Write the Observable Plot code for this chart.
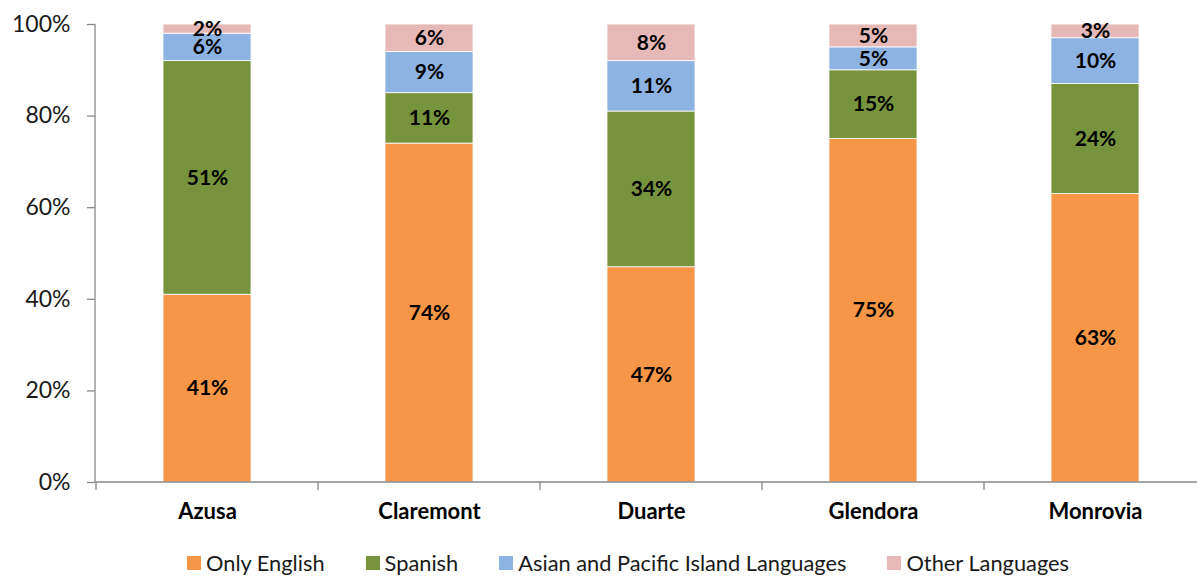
<!DOCTYPE html>
<html>
<head>
<meta charset="utf-8">
<script src="https://cdn.jsdelivr.net/npm/d3@7"></script>
<script src="https://cdn.jsdelivr.net/npm/@observablehq/plot@0.6"></script>
<style>
  body { margin: 0; background: #fff; font-family: Lato, "Open Sans", sans-serif; }
  #legend { display: flex; justify-content: flex-start; gap: 41px; padding-left: 187px; margin-top: 14px; font-size: 21.8px; color: #1a1a1a; }
  #legend .item { display: flex; align-items: center; gap: 5px; white-space: nowrap; }
  #legend .sw { width: 14px; height: 14px; display: inline-block; }
</style>
</head>
<body>
<div id="chart"></div>
<div id="legend"></div>
<script>
// Share of residents by language spoken at home, per city
const cities = ["Azusa", "Claremont", "Duarte", "Glendora", "Monrovia"];
const languages = ["Only English", "Spanish", "Asian and Pacific Island Languages", "Other Languages"];
const onlyEnglish = [41, 74, 47, 75, 63];
const spanish = [51, 11, 34, 15, 24];
const asianPacific = [6, 9, 11, 5, 10];
const otherLanguages = [2, 6, 8, 5, 3];
const colors = ["#F79646", "#77933C", "#8DB3E2", "#E6B9B8"];
const yTicks = [0, 20, 40, 60, 80, 100];

const series = [onlyEnglish, spanish, asianPacific, otherLanguages];
const rows = languages.flatMap((lang, s) =>
  cities.map((city, i) => ({ city, lang, value: series[s][i] }))
);

const axisColor = "#898989";

// Axis lines plus the category boundary ticks along the bottom
function axisLines(index, scales, values, dims) {
  const { width, height, marginLeft, marginRight, marginTop, marginBottom } = dims;
  const x = scales.x;
  const y0 = height - marginBottom;
  const step = x(cities[1]) - x(cities[0]);
  const bw = x.bandwidth ? x.bandwidth() : 0;
  const g = d3.create("svg:g")
    .attr("stroke", axisColor)
    .attr("stroke-width", 1.3)
    .attr("fill", "none");
  g.append("line").attr("x1", marginLeft).attr("x2", marginLeft).attr("y1", marginTop).attr("y2", y0);
  g.append("line").attr("x1", marginLeft).attr("x2", width - marginRight).attr("y1", y0).attr("y2", y0);
  const edges = cities.map(c => x(c) + bw / 2 - step / 2);
  edges.push(x(cities[cities.length - 1]) + bw / 2 + step / 2);
  for (const e of edges) {
    g.append("line").attr("x1", e).attr("x2", e).attr("y1", y0).attr("y2", y0 + 8);
  }
  return g.node();
}

const chart = Plot.plot({
  width: 1197,
  height: 535,
  marginLeft: 95,
  marginRight: -9,
  marginTop: 24,
  marginBottom: 53,
  style: { fontFamily: "Lato, 'Open Sans', sans-serif", background: "white", overflow: "visible" },
  x: { domain: cities, paddingInner: 0.604, paddingOuter: 0.302, label: null },
  y: { domain: [0, 100], label: null },
  color: { domain: languages, range: colors },
  marks: [
    Plot.barY(rows, Plot.stackY({
      x: "city", y: "value", z: "lang", fill: "lang",
      order: languages,
      stroke: "white", strokeWidth: 0.8
    })),
    Plot.text(rows, Plot.stackY({
      x: "city", y: "value", z: "lang",
      order: languages,
      text: d => d.value + "%",
      fontWeight: "bold", fontSize: 21, fill: "#000"
    })),
    Plot.axisY({
      ticks: yTicks, tickSize: 8, tickPadding: 17,
      tickFormat: d => d + "%",
      fontSize: 23, stroke: axisColor, strokeWidth: 1.3, fill: "#1a1a1a", label: null
    }),
    Plot.axisX({
      tickSize: 0, tickPadding: 21,
      fontSize: 22, fontWeight: "bold", fill: "#000", label: null
    }),
    axisLines
  ]
});

document.getElementById("chart").append(chart);

const legend = d3.select("#legend");
languages.forEach((lang, i) => {
  const item = legend.append("div").attr("class", "item");
  item.append("span").attr("class", "sw").style("background", colors[i]);
  item.append("span").text(lang);
});
</script>
</body>
</html>
